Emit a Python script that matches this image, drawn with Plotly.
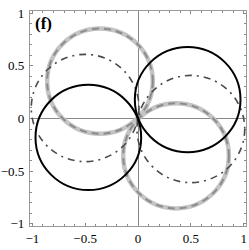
import plotly.graph_objects as go

# Circle parameters (centre x, centre y, radius)
black_cx = [0.47, -0.47]
black_cy = [0.18, -0.18]
black_r = [0.50, 0.50]

gray_cx = [-0.36, 0.36]
gray_cy = [0.355, -0.355]
gray_r = [0.50, 0.50]

dd_cx = [-0.50, 0.50]
dd_cy = [0.10, -0.10]
dd_r = [0.51, 0.51]

tick_vals = [-1, -0.5, 0, 0.5, 1]
tick_text = ["\u22121", "\u22120.5", "0", "0.5", "1"]

SERIF = "'Times New Roman', 'Liberation Serif', 'DejaVu Serif', serif"

fig = go.Figure()
fig.add_trace(go.Scatter(x=[0], y=[0], mode="markers", marker=dict(opacity=0), showlegend=False, hoverinfo="skip"))

def add_circles(cx, cy, rr, line):
    for x, y, r in zip(cx, cy, rr):
        fig.add_shape(type="circle", xref="x", yref="y", x0=x - r, x1=x + r, y0=y - r, y1=y + r,
                      line=line, layer="above")

add_circles(gray_cx, gray_cy, gray_r, dict(color="#c4c4c4", width=4.5))
add_circles(gray_cx, gray_cy, gray_r, dict(color="#8c8c8c", width=2, dash="7px,5px"))
add_circles(dd_cx, dd_cy, dd_r, dict(color="#4a4a4a", width=1.6, dash="7px,5px,2px,5px"))
add_circles(black_cx, black_cy, black_r, dict(color="#000000", width=2))

axis_common = dict(
    range=[-1.022, 1.022], tickvals=tick_vals, ticktext=tick_text,
    ticks="inside", ticklen=3, tickcolor="#888", tickwidth=1,
    showline=True, linecolor="#999", linewidth=1.2, mirror="ticks",
    showgrid=False, zeroline=True, zerolinecolor="#888", zerolinewidth=1,
    minor=dict(dtick=0.1, ticks="inside", ticklen=2, tickcolor="#888", showgrid=False),
    tickfont=dict(family=SERIF, size=13, color="#000"),
    fixedrange=True, automargin=False,
)

fig.update_xaxes(**axis_common)
fig.update_yaxes(**axis_common)
fig.update_yaxes(ticklabelstandoff=2)

fig.add_annotation(xref="paper", yref="paper", x=0.015, y=0.995, xanchor="left", yanchor="top",
                   text="<b>(f)</b>", showarrow=False,
                   font=dict(family=SERIF, size=17, color="#000"))

fig.update_layout(
    width=249, height=250,
    margin=dict(l=30, r=3, t=11, b=24, autoexpand=False),
    plot_bgcolor="white", paper_bgcolor="white",
    showlegend=False,
    font=dict(family=SERIF),
)

fig.write_html("out.html", config={"displayModeBar": False})

# remove the browser's default page margin so the 249x250 figure fits the window
with open("out.html", encoding="utf-8") as f:
    html = f.read()
html = html.replace("<head>", "<head><style>html,body{margin:0;padding:0;overflow:hidden;}</style>", 1)
with open("out.html", "w", encoding="utf-8") as f:
    f.write(html)
